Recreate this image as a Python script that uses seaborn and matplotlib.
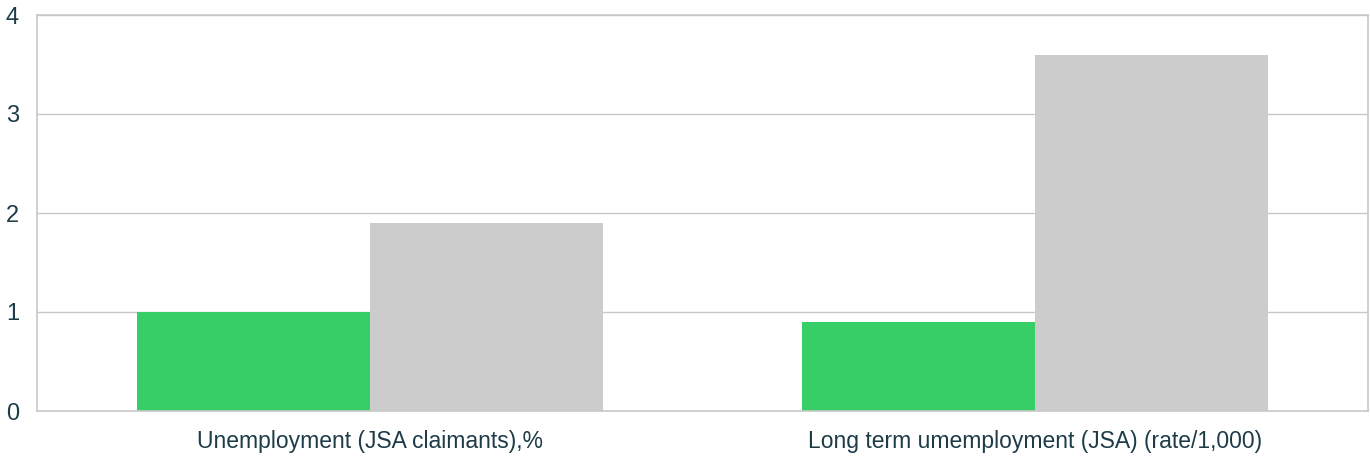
import matplotlib
matplotlib.use("Agg")
import matplotlib.pyplot as plt
import seaborn as sns
import pandas as pd

categories = ["Unemployment (JSA claimants),%", "Long term umemployment (JSA) (rate/1,000)"]
series_names = ["Area", "Comparator"]
area_values = [1.0, 0.9]
comparator_values = [1.9, 3.6]
y_ticks = [0, 1, 2, 3, 4]

df = pd.DataFrame({
    "category": categories * 2,
    "series": [series_names[0]] * 2 + [series_names[1]] * 2,
    "value": area_values + comparator_values,
})

sns.set_style("white")
plt.rcParams["font.family"] = ["Liberation Sans", "DejaVu Sans"]
text_color = "#1d3c47"

fig = plt.figure(figsize=(13.7, 4.57), dpi=100)
ax = fig.add_axes([37 / 1370, 1 - 411 / 457, (1368 - 37) / 1370, (411 - 15) / 457])

sns.barplot(data=df, x="category", y="value", hue="series",
            palette=["#37CE68", "#CCCCCC"], width=0.7, gap=0,
            saturation=1, ax=ax, legend=False, edgecolor="none")

ax.set_xlim(-0.5, 1.5)
ax.set_ylim(0, 4)
ax.set_yticks(y_ticks)
ax.yaxis.grid(True, color="#c8c8c8", linewidth=1)
ax.set_axisbelow(True)
for s in ax.spines.values():
    s.set_color("#c8c8c8")
    s.set_linewidth(1.2)
ax.set_xlabel("")
ax.set_ylabel("")
ax.tick_params(axis="y", length=8, width=1, color="#c8c8c8", labelsize=17, labelcolor=text_color, pad=5)
ax.tick_params(axis="x", length=0, labelsize=16.5, labelcolor=text_color, pad=14)

fig.savefig("out.png", dpi=100)
